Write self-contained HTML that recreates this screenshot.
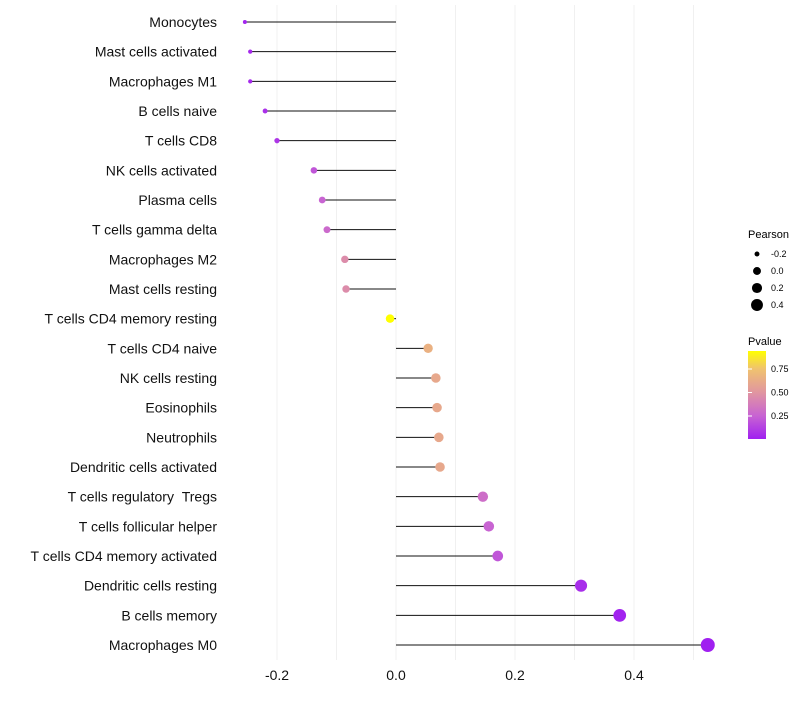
<!DOCTYPE html>
<html><head><meta charset="utf-8"><style>
body{margin:0;background:#fff;font-family:"Liberation Sans",sans-serif}
svg text{font-family:"Liberation Sans",sans-serif}
</style></head><body>
<svg id="chart" width="800" height="700" xmlns="http://www.w3.org/2000/svg">
<defs><linearGradient id="pg" x1="0" y1="1" x2="0" y2="0">
<stop offset="0" stop-color="rgb(160,32,240)"/><stop offset="0.266" stop-color="rgb(200,100,210)"/>
<stop offset="0.532" stop-color="rgb(225,150,160)"/><stop offset="0.8" stop-color="rgb(240,195,110)"/>
<stop offset="1" stop-color="rgb(255,255,0)"/></linearGradient></defs>
<g id="grid"></g>
<g id="marks"></g>
<g id="ylabels"></g>
<g id="xticks"></g>
<g>
<text x="748" y="238" font-size="11">Pearson</text>
<g id="sizeleg"></g>
</g>
<g>
<text x="748" y="345" font-size="11">Pvalue</text>
<rect x="748" y="351" width="18" height="88" fill="url(#pg)"/>
<g id="colleg"></g>
</g>
</svg>
<script>
const categories=["Monocytes","Mast cells activated","Macrophages M1","B cells naive","T cells CD8","NK cells activated","Plasma cells","T cells gamma delta","Macrophages M2","Mast cells resting","T cells CD4 memory resting","T cells CD4 naive","NK cells resting","Eosinophils","Neutrophils","Dendritic cells activated","T cells regulatory \u00a0Tregs","T cells follicular helper","T cells CD4 memory activated","Dendritic cells resting","B cells memory","Macrophages M0"];
const pearson=[-0.254,-0.245,-0.245,-0.220,-0.200,-0.138,-0.124,-0.116,-0.086,-0.084,-0.010,0.054,0.067,0.069,0.072,0.074,0.146,0.156,0.171,0.311,0.376,0.524];
const pvalue=[0.02,0.03,0.03,0.06,0.08,0.2,0.25,0.28,0.45,0.45,0.96,0.65,0.6,0.6,0.6,0.6,0.3,0.25,0.2,0.05,0.01,0.001];
const xTicks=[-0.2,0.0,0.2,0.4];
const xTickLabels=["-0.2","0.0","0.2","0.4"];
const sizeLegendVals=[-0.2,0.0,0.2,0.4];
const colorLegendVals=[0.25,0.5,0.75];
const colorLegendLabels=["0.25","0.50","0.75"];

const NS="http://www.w3.org/2000/svg";
const x=v=>396+v*595;
const y=i=>22+i*29.667;
const r=v=>Math.sqrt(Math.max(3,4+57.8*(v+0.254)));
const stops=[[0,[160,32,240]],[0.25,[200,100,210]],[0.5,[225,150,160]],[0.75,[240,195,110]],[0.94,[255,255,0]]];
function col(p){p=Math.min(0.94,Math.max(0,p));for(let k=0;k<stops.length-1;k++){const[a,ca]=stops[k],[b,cb]=stops[k+1];if(p<=b){const t=(p-a)/(b-a);return`rgb(${ca.map((c,j)=>Math.round(c+(cb[j]-c)*t)).join(",")})`;}}return"rgb(255,255,0)";}
function mk(tag,at,par){const e=document.createElementNS(NS,tag);for(const k in at)e.setAttribute(k,at[k]);par.appendChild(e);return e;}
const grid=document.getElementById("grid"),marks=document.getElementById("marks"),yl=document.getElementById("ylabels"),xt=document.getElementById("xticks");
for(let v=-0.2;v<=0.51;v+=0.1){const g=mk("line",{x1:x(v),x2:x(v),y1:5,y2:660,stroke:"#f0f0f0","stroke-width":1},grid);

}
xTicks.forEach((v,i)=>{const t=mk("text",{x:x(v),y:680,"font-size":14,"text-anchor":"middle",fill:"#111"},xt);t.textContent=xTickLabels[i];

});
categories.forEach((c,i)=>{
const t=mk("text",{x:217,y:y(i)+5,"font-size":14,"text-anchor":"end",fill:"#111"},yl);t.textContent=c;


const l=mk("line",{x1:x(0),x2:x(pearson[i]),y1:y(i),y2:y(i),stroke:"#111","stroke-width":1},marks);


const p=mk("circle",{cx:x(pearson[i]),cy:y(i),r:r(pearson[i]),fill:col(pvalue[i])},marks);

});
const sl=document.getElementById("sizeleg");
sizeLegendVals.forEach((v,i)=>{const yy=254+i*17;
const c=mk("circle",{cx:757,cy:yy,r:r(v)*0.92,fill:"#000"},sl);


const t=mk("text",{x:771,y:yy+3,"font-size":9},sl);t.textContent=v.toFixed(1);

});
const cl=document.getElementById("colleg");
colorLegendVals.forEach((v,i)=>{const yy=439.5-v/0.25*23.5;
const t=mk("text",{x:771,y:yy+3,"font-size":9},cl);t.textContent=colorLegendLabels[i];


const tk=mk("line",{x1:748,x2:752,y1:yy,y2:yy,stroke:"#fff"},cl);

});
</script>
</body></html>
